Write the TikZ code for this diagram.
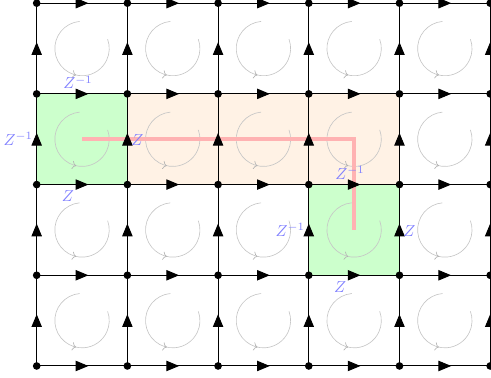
\documentclass[tikz,border=0pt]{standalone}
\usetikzlibrary{arrows.meta,decorations.markings}
\begin{document}
\begin{tikzpicture}[
  edge/.style={line width=0.6pt, postaction={decorate},
    decoration={markings, mark=at position 0.5 with {\arrow[xshift=4pt]{Triangle[length=8pt,width=6.5pt]}}}},
  vdot/.style={circle, fill=black, inner sep=0pt, minimum size=4.8pt},
  loopc/.style={draw=gray!45, line width=0.4pt, postaction={decorate},
    decoration={markings, mark=at position 0.57 with {\arrow[gray!60]{>}}}},
  lab/.style={text=blue!50, inner sep=0pt},
  greencell/.style={fill=green!20},
  orangecell/.style={fill=orange!10},
  trail/.style={draw=red!30, line width=2.5pt, line join=miter}
]
\useasboundingbox (-0.809,-0.265) rectangle (10.018,8.07);
% vertices and cell centres
\foreach \i in {0,...,5} \foreach \j in {0,...,4} \coordinate (v-\i-\j) at (2*\i,2*\j);
\foreach \i in {0,...,4} \foreach \j in {0,...,3} \coordinate (c-\i-\j) at (2*\i+1,2*\j+1);
% coloured cells
\fill[orangecell] (v-1-2) rectangle (v-4-3);
\fill[greencell] (v-0-2) rectangle (v-1-3);
\fill[greencell] (v-3-1) rectangle (v-4-2);
% plaquette loops
\foreach \i in {0,...,4} \foreach \j in {0,...,3}
  \draw[loopc] ([shift={(95:0.6)}]c-\i-\j) arc[start angle=95, end angle=380, radius=0.6];
% string
\draw[trail] (c-0-2) -- (c-3-2) -- (c-3-1);
% horizontal edges
\foreach \i [count=\k from 1] in {0,...,4} \foreach \j in {0,...,4}
  \draw[edge] (v-\i-\j) -- (v-\k-\j);
% vertical edges
\foreach \j [count=\k from 1] in {0,...,3} \foreach \i in {0,...,5}
  \draw[edge] (v-\i-\j) -- (v-\i-\k);
% vertex dots
\foreach \i in {0,...,5} \foreach \j in {0,...,4}
  \node[vdot] (d-\i-\j) at (v-\i-\j) {};
% labels
\node[lab, anchor=base west] (a-top) at ([shift={(0.58,0.11)}]v-0-3) {$Z^{-1}$};
\node[lab, anchor=base west] (a-bot) at ([shift={(0.55,-0.37)}]v-0-2) {$Z$};
\node[lab, anchor=base east] (a-left) at ([shift={(-0.08,0.86)}]v-0-2) {$Z^{-1}$};
\node[lab, anchor=base west] (a-right) at ([shift={(0.08,0.86)}]v-1-2) {$Z$};
\node[lab, anchor=base west] (b-top) at ([shift={(0.58,0.11)}]v-3-2) {$Z^{-1}$};
\node[lab, anchor=base west] (b-bot) at ([shift={(0.55,-0.37)}]v-3-1) {$Z$};
\node[lab, anchor=base east] (b-left) at ([shift={(-0.08,0.86)}]v-3-1) {$Z^{-1}$};
\node[lab, anchor=base west] (b-right) at ([shift={(0.08,0.86)}]v-4-1) {$Z$};
\end{tikzpicture}
\end{document}
